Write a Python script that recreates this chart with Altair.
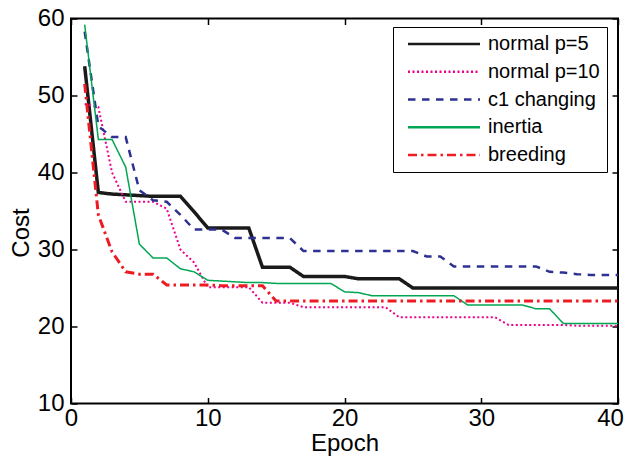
import altair as alt
import pandas as pd

epochs = list(range(1, 41))
series_names = ["normal p=5", "normal p=10", "c1 changing", "inertia", "breeding"]

normal_p5 = [53.8, 37.4, 37.2, 37.1, 37.0, 36.9, 36.9, 36.9, 34.9, 32.8,
             32.8, 32.8, 32.8, 27.7, 27.7, 27.7, 26.5, 26.5, 26.5, 26.5,
             26.2, 26.2, 26.2, 26.2, 25.0, 25.0, 25.0, 25.0, 25.0, 25.0,
             25.0, 25.0, 25.0, 25.0, 25.0, 25.0, 25.0, 25.0, 25.0, 25.0]
normal_p10 = [48.9, 48.5, 40.0, 36.2, 36.2, 36.2, 35.3, 30.0, 28.3, 25.1,
              25.1, 25.1, 25.1, 23.1, 23.1, 23.1, 22.5, 22.5, 22.5, 22.5,
              22.5, 22.5, 22.5, 21.2, 21.2, 21.2, 21.2, 21.2, 21.2, 21.2,
              21.2, 20.2, 20.2, 20.2, 20.2, 20.2, 20.1, 20.1, 20.1, 20.1]
c1_changing = [58.3, 46.0, 44.6, 44.6, 37.7, 36.4, 36.2, 34.5, 32.6, 32.6,
               32.6, 31.5, 31.5, 31.5, 31.5, 31.5, 29.8, 29.8, 29.8, 29.8,
               29.8, 29.8, 29.8, 29.8, 29.8, 29.1, 29.1, 27.8, 27.8, 27.8,
               27.8, 27.8, 27.8, 27.8, 27.1, 27.0, 26.8, 26.7, 26.7, 26.7]
inertia = [59.2, 44.3, 44.3, 40.7, 30.7, 28.9, 28.9, 27.5, 27.1, 26.0,
           25.9, 25.8, 25.7, 25.7, 25.6, 25.6, 25.6, 25.6, 25.6, 24.5,
           24.4, 24.0, 24.0, 24.0, 24.0, 24.0, 24.0, 24.0, 22.8, 22.8,
           22.8, 22.8, 22.8, 22.3, 22.3, 20.4, 20.4, 20.4, 20.4, 20.4]
breeding = [51.5, 34.5, 29.7, 27.1, 26.8, 26.8, 25.4, 25.4, 25.4, 25.4,
            25.3, 25.3, 25.3, 25.3, 23.3, 23.3, 23.3, 23.3, 23.3, 23.3,
            23.3, 23.3, 23.3, 23.3, 23.3, 23.3, 23.3, 23.3, 23.3, 23.3,
            23.3, 23.3, 23.3, 23.3, 23.3, 23.3, 23.3, 23.3, 23.3, 23.3]

x_ticks = [0, 10, 20, 30, 40]
y_ticks = [10, 20, 30, 40, 50, 60]

colors = ["#1a1a1a", "#ec008c", "#2e3192", "#00a651", "#ed1c24"]
dashes = [[1, 0], [2, 2.5], [7.5, 6.5], [1, 0], [9, 4, 2.5, 4]]
widths = [3.5, 2, 2.5, 1.5, 3]

all_values = [normal_p5, normal_p10, c1_changing, inertia, breeding]
rows = []
for name, w, vals in zip(series_names, widths, all_values):
    for e, v in zip(epochs, vals):
        rows.append({"Epoch": e, "Cost": v, "series": name, "w": w})
df = pd.DataFrame(rows)

W, H = 547, 385
FONT = "Liberation Sans"

xscale = alt.Scale(domain=[0, 40], nice=False)
yscale = alt.Scale(domain=[10, 60], nice=False)

legend = alt.Legend(
    title=None, orient="none", legendX=322, legendY=8.5,
    symbolType="M-4.5,0H4.5", symbolSize=256, symbolOffset=34,
    labelOffset=34, labelFont=FONT, labelFontSize=20, labelColor="black",
    rowPadding=7.75, padding=7, strokeColor="black", fillColor="white",
    symbolStrokeWidth=2.5,
)

main = alt.Chart(df).mark_line().encode(
    x=alt.X("Epoch:Q", scale=xscale,
            axis=alt.Axis(values=x_ticks, format="d", ticks=False, tickSize=0, domain=False,
                          grid=False, labelFlush=False, labelPadding=3,
                          labelOffset={"expr": "datum.value == 40 ? -8 : 0"},
                          labelFont=FONT, labelFontSize=24, labelColor="black",
                          title="Epoch", titleFont=FONT, titleFontSize=24,
                          titleFontWeight="normal", titleColor="black",
                          titleY=28, titleBaseline="top")),
    y=alt.Y("Cost:Q", scale=yscale,
            axis=alt.Axis(values=y_ticks, format="d", ticks=False, tickSize=0, domain=False,
                          grid=False, labelFlush=False, labelPadding=7,
                          labelFont=FONT, labelFontSize=24, labelColor="black",
                          title="Cost", titleFont=FONT, titleFontSize=24,
                          titleFontWeight="normal", titleColor="black",
                          titleX=-50, titleY=214, titleBaseline="middle", titleAlign="center",
                          titleAngle=270)),
    color=alt.Color("series:N", sort=series_names,
                    scale=alt.Scale(domain=series_names, range=colors), legend=legend),
    strokeDash=alt.StrokeDash("series:N", sort=series_names,
                              scale=alt.Scale(domain=series_names, range=dashes), legend=legend),
    strokeWidth=alt.StrokeWidth("w:Q", scale=None, legend=None),
)

def tick_axis(orient, offset, vals):
    return alt.Axis(orient=orient, offset=offset, values=vals, labels=False, domain=False,
                    grid=False, ticks=True, tickSize=6, tickWidth=1.5, tickColor="black",
                    title=None)

ticks_a = alt.Chart(df).mark_line(opacity=0).encode(
    x=alt.X("Epoch:Q", scale=xscale, axis=tick_axis("top", -H, x_ticks)),
    y=alt.Y("Cost:Q", scale=yscale, axis=tick_axis("right", -W, y_ticks)),
    detail="series:N",
)
ticks_b = alt.Chart(df).mark_line(opacity=0).encode(
    x=alt.X("Epoch:Q", scale=xscale, axis=tick_axis("bottom", -H, x_ticks)),
    y=alt.Y("Cost:Q", scale=yscale, axis=tick_axis("left", -W, y_ticks)),
    detail="series:N",
)

chart = alt.layer(main, ticks_a, ticks_b).resolve_axis(
    x="independent", y="independent"
).properties(
    width=W, height=H,
    autosize=alt.AutoSizeParams(type="none"),
    padding={"left": 63, "top": 10.5, "right": 6, "bottom": 52},
    background="white",
).configure_view(stroke="black", strokeWidth=2)

chart.save("out.html", embed_options={"renderer": "svg", "actions": False})
